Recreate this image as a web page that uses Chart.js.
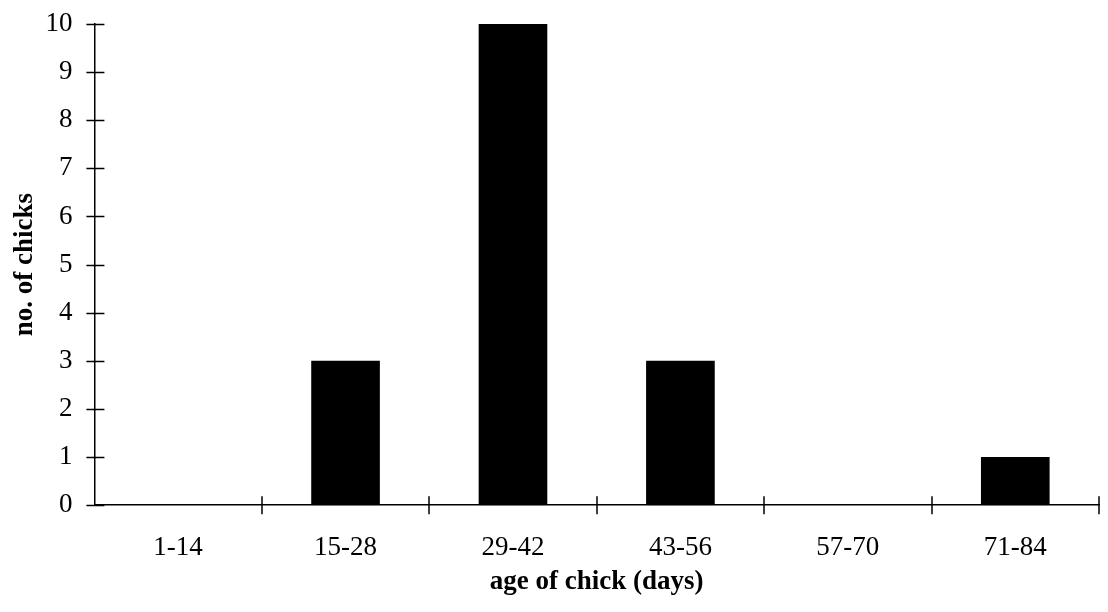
<!DOCTYPE html>
<html>
<head>
<meta charset="utf-8">
<script src="https://cdn.jsdelivr.net/npm/chart.js@4"></script>
<style>
  html, body { margin: 0; padding: 0; background: #fff; }
  #wrap { width: 1108px; height: 612px; }
</style>
</head>
<body>
<div id="wrap"><canvas id="myChart" width="1108" height="612"></canvas></div>
<script>
const ageGroups = ['1-14', '15-28', '29-42', '43-56', '57-70', '71-84'];
const chickCounts = [0, 3, 10, 3, 0, 1];
const yTicks = [0, 1, 2, 3, 4, 5, 6, 7, 8, 9, 10];

const serif = "'Liberation Serif', 'Times New Roman', serif";

// tick marks crossing the axis lines, like the original
const crossTicks = {
  id: 'crossTicks',
  afterDraw(chart) {
    const c = chart.ctx;
    const x = chart.scales.x, y = chart.scales.y;
    const area = chart.chartArea;
    c.save();
    c.strokeStyle = '#000';
    c.lineWidth = 1.5;
    c.beginPath();
    yTicks.forEach(v => {
      const py = Math.round(y.getPixelForValue(v)) + 0.5;
      c.moveTo(area.left - 8, py);
      c.lineTo(area.left + 10, py);
    });
    for (let i = 1; i <= ageGroups.length; i++) {
      const bx = i === ageGroups.length
        ? area.right
        : Math.round((x.getPixelForValue(i - 1) + x.getPixelForValue(i)) / 2);
      c.moveTo(bx, area.bottom - 9);
      c.lineTo(bx, area.bottom + 9);
    }
    c.stroke();
    c.restore();
  }
};

const ctx = document.getElementById('myChart').getContext('2d');
const myChart = new Chart(ctx, {
  type: 'bar',
  data: {
    labels: ageGroups,
    datasets: [{
      label: 'no. of chicks',
      data: chickCounts,
      backgroundColor: '#000',
      borderWidth: 0,
      categoryPercentage: 1,
      barPercentage: 0.41
    }]
  },
  options: {
    responsive: false,
    animation: false,
    layout: { padding: { top: 24, right: 9, left: 9, bottom: 14 } },
    plugins: {
      legend: { display: false },
      tooltip: { enabled: false }
    },
    scales: {
      x: {
        grid: { display: false, drawTicks: true, tickLength: 22 },
        border: { display: true, color: '#000', width: 1.5 },
        ticks: { color: '#000', font: { family: serif, size: 27 }, padding: 5, maxRotation: 0 },
        title: {
          display: true,
          text: 'age of chick (days)',
          color: '#000',
          font: { family: serif, size: 27, weight: 'bold' },
          padding: { top: -4, bottom: 0 }
        }
      },
      y: {
        min: 0,
        max: 10,
        grid: { display: false, drawTicks: true, tickLength: 16 },
        border: { display: true, color: '#000', width: 1.5 },
        ticks: { stepSize: 1, color: '#000', font: { family: serif, size: 27 }, padding: 6 },
        title: {
          display: true,
          text: 'no. of chicks',
          color: '#000',
          font: { family: serif, size: 27, weight: 'bold' },
          padding: { top: 0, bottom: -2 }
        }
      }
    }
  },
  plugins: [crossTicks]
});
</script>
</body>
</html>
